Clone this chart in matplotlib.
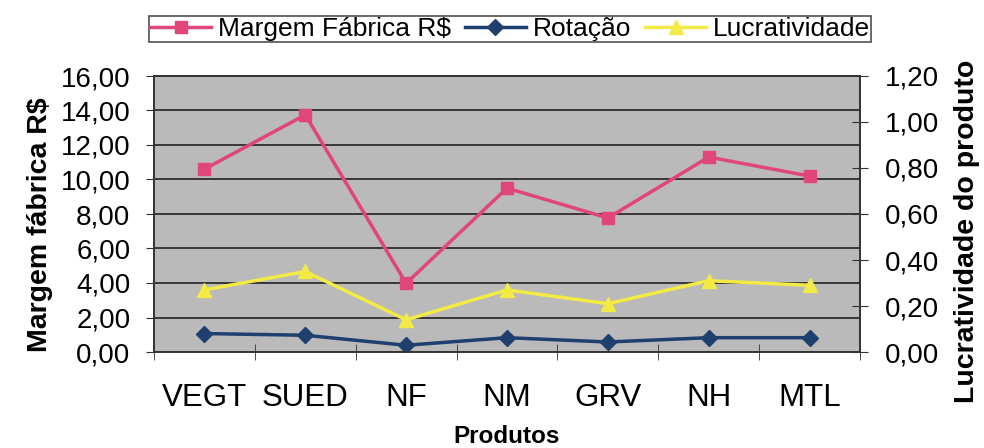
import matplotlib
matplotlib.use("Agg")
import matplotlib.pyplot as plt
import numpy as np

plt.rcParams['font.family'] = ['Liberation Sans', 'DejaVu Sans']

categories = ["VEGT", "SUED", "NF", "NM", "GRV", "NH", "MTL"]
margem = [10.6, 13.75, 3.98, 9.5, 7.77, 11.3, 10.2]
rotacao = [1.07, 0.97, 0.39, 0.83, 0.58, 0.83, 0.83]
lucratividade = [0.27, 0.35, 0.14, 0.27, 0.21, 0.31, 0.29]

left_ticks = [0, 2, 4, 6, 8, 10, 12, 14, 16]
right_ticks = [0, 0.2, 0.4, 0.6, 0.8, 1.0, 1.2]

fig = plt.figure(figsize=(9.84, 4.48), dpi=100)
ax = fig.add_axes([154/984, 1-352/448, (860-154)/984, (352-76)/448])
ax.set_facecolor('#bababa')
x = np.arange(len(categories))

l1, = ax.plot(x, margem, color='#e0457b', marker='s', markersize=9, lw=2.5,
              label='Margem Fábrica R$', zorder=3)
l2, = ax.plot(x, rotacao, color='#1f3f6e', marker='D', markersize=8, lw=2.5,
              label='Rotação', zorder=3)
ax.set_xlim(-0.5, len(categories)-0.5)
ax.set_ylim(0, 16)
ax.set_yticks(left_ticks)
ax.set_yticklabels([f"{v:.2f}".replace('.', ',') for v in left_ticks], fontsize=20)
ax.yaxis.grid(True, color='#222222', lw=1.2)
ax.set_axisbelow(True)
ax.set_xticks(x)
ax.set_xticklabels(categories, fontsize=22.5)
ax.set_xticks(np.arange(len(categories)+1)-0.5, minor=True)
ax.tick_params(axis='x', which='major', length=0, pad=22)
ax.tick_params(axis='x', which='minor', length=12, direction='inout', color='#333333')
ax.tick_params(axis='y', length=6, direction='out', color='#333333', pad=11)
ax.set_xlabel('Produtos', fontsize=17.5, fontweight='bold')
ax.xaxis.set_label_coords(0.5, (352-436)/276)
ax.xaxis.label.set_va('center')
ax.set_ylabel('Margem fábrica R$', fontsize=20.5, fontweight='bold')
ax.yaxis.set_label_coords((40-154)/706, (352-225)/276)
ax.yaxis.label.set_va('center')
for s in ax.spines.values():
    s.set_color('#333333')
    s.set_linewidth(1.2)

ax2 = ax.twinx()
l3, = ax2.plot(x, lucratividade, color='#f2ea45', marker='^', markersize=10, lw=2.5,
               label='Lucratividade', zorder=3)
ax2.set_ylim(0, 1.2)
ax2.set_yticks(right_ticks)
ax2.set_yticklabels([f"{v:.2f}".replace('.', ',') for v in right_ticks], fontsize=20)
ax2.tick_params(axis='y', length=12, direction='inout', color='#333333', pad=12)
ax2.set_ylabel('Lucratividade do produto', fontsize=20.5, fontweight='bold')
ax2.yaxis.set_label_coords((967-154)/706, (352-231)/276)
ax2.yaxis.label.set_va('center')
for s in ax2.spines.values():
    s.set_color('#333333')
    s.set_linewidth(1.2)

leg = fig.legend(handles=[l1, l2, l3], loc='center', bbox_to_anchor=(510/984, 1-29/448),
                 ncol=3, fontsize=19, frameon=True, fancybox=False, edgecolor='#222222',
                 handlelength=2.3, handletextpad=0.25, columnspacing=0.55,
                 borderpad=0.05, borderaxespad=0)
leg.get_frame().set_linewidth(1.2)

fig.savefig('out.png', dpi=100)
